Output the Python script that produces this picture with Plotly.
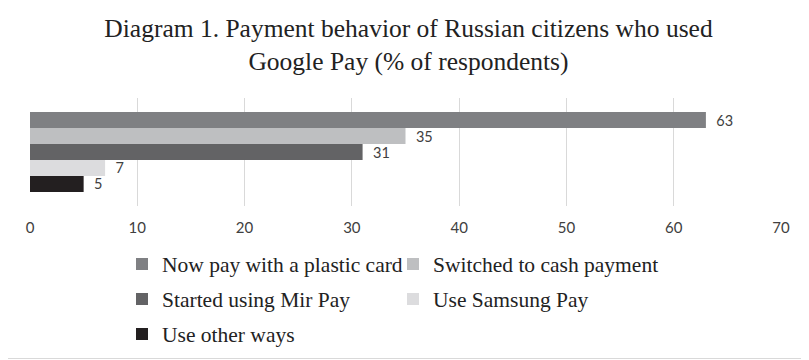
import plotly.graph_objects as go

categories = ["Google Pay users"]
series_names = ["Now pay with a plastic card", "Switched to cash payment",
                "Started using Mir Pay", "Use Samsung Pay", "Use other ways"]
series_values = [63, 35, 31, 7, 5]
series_colors = ["#7f8083", "#bebfc1", "#636365", "#dcdcde", "#231f20"]
legend_rows = ["legend", "legend", "legend2", "legend2", "legend3"]
x_ticks = [0, 10, 20, 30, 40, 50, 60, 70]

# page has an 8px body margin, so the figure is sized/positioned to compensate
W, H = 801, 352
ml, mr, mt, mb = 22, 28, 90, 154
pw, ph = W - ml - mr, H - mt - mb

fig = go.Figure()
for name, val, col, lg in reversed(list(zip(series_names, series_values, series_colors, legend_rows))):
    fig.add_trace(go.Bar(
        y=categories, x=[val], name=name, orientation="h", legend=lg,
        marker=dict(color=col, line=dict(width=0)),
        text=[val], texttemplate="\u00a0\u00a0%{text}", textposition="outside",
        cliponaxis=False, constraintext="none",
        textfont=dict(family="Lato", size=14.5, color="#404040"),
    ))

legend_font = dict(family="Liberation Serif", size=21.5, color="#222222")
def legend_at(top_px):
    return dict(orientation="h", traceorder="reversed",
                xref="container", x=114 / W, xanchor="left",
                yref="container", y=1 - top_px / H, yanchor="top",
                entrywidth=226, entrywidthmode="pixels",
                font=legend_font, itemclick=False, tracegroupgap=0,
                bgcolor="rgba(0,0,0,0)")

fig.update_layout(
    width=W, height=H,
    margin=dict(l=ml, r=mr, t=mt, b=mb, pad=0, autoexpand=False),
    paper_bgcolor="white", plot_bgcolor="white",
    barmode="group", bargap=0.26, bargroupgap=0,
    title=dict(text="Diagram 1. Payment behavior of Russian citizens who used<br>Google Pay (% of respondents)",
               x=0.5, xanchor="center", y=1 - 29 / H, yanchor="top", yref="container",
               font=dict(family="Liberation Serif", size=25.5, color="#222222")),
    xaxis=dict(range=[0, 70], tickvals=x_ticks, showgrid=True, gridcolor="#d9d9d9", gridwidth=1,
               zeroline=False, showline=False, ticks="", automargin=False, ticklabelstandoff=11,
               tickfont=dict(family="Lato", size=15, color="#404040")),
    yaxis=dict(showticklabels=False, showgrid=False, zeroline=False, showline=False, automargin=False),
    legend=legend_at(235.5),
    legend2=legend_at(270.5),
    legend3=legend_at(305.5),
    shapes=[
        dict(type="line", xref="paper", yref="paper",
             x0=(0 - ml) / pw, x1=(W - ml) / pw,
             y0=(mt + ph - (H - 1.5)) / ph, y1=(mt + ph - (H - 1.5)) / ph,
             line=dict(color="#d9d9d9", width=1), layer="below"),
    ],
    showlegend=True,
)

fig.write_html("out.html")
